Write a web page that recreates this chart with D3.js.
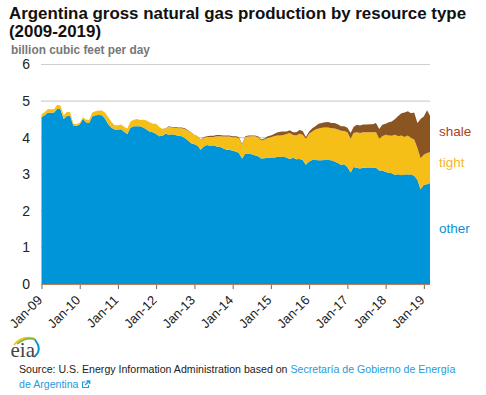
<!DOCTYPE html>
<html><head><meta charset="utf-8">
<script src="https://cdn.jsdelivr.net/npm/d3@7"></script>
<style>html,body{margin:0;padding:0;background:#fff}svg{display:block}text{font-family:"Liberation Sans",Arial,sans-serif}</style>
</head><body><svg id="c" width="486" height="395"></svg>
<script>
const startMonth = "2009-01";
const other = [4.56,4.61,4.68,4.68,4.69,4.79,4.78,4.51,4.59,4.60,4.33,4.32,4.36,4.52,4.42,4.40,4.58,4.61,4.62,4.61,4.52,4.37,4.27,4.22,4.22,4.23,4.16,4.10,4.27,4.31,4.31,
4.31,4.28,4.22,4.17,4.15,4.10,4.04,4.05,4.11,4.08,4.09,4.07,4.05,4.04,3.99,3.92,3.85,3.82,3.78,3.67,3.76,3.80,3.78,3.79,3.76,3.75,3.71,
3.67,3.67,3.64,3.62,3.58,3.43,
3.56,3.57,3.55,3.52,3.49,3.43,3.44,3.45,3.46,3.46,3.47,3.47,3.49,3.45,3.42,3.45,3.41,3.42,3.39,3.26,3.35,3.39,3.39,3.38,3.38,3.39,3.39,3.38,3.35,3.31,3.26,3.27,3.20,3.05,3.20,3.18,3.16,3.18,3.17,3.17,3.17,3.18,3.10,3.10,3.06,3.04,3.03,2.98,3.00,2.97,2.99,2.99,2.99,2.96,2.85,2.59,2.71,2.73,2.76];
const tight = [.07,.09,.10,.10,.09,.11,.10,.10,.11,.10,.06,.05,.05,.04,.08,.08,.11,.11,.12,.13,.16,.19,.16,.12,.12,.13,.14,.15,.17,.18,.20,
.17,.21,.25,.25,.23,.28,.25,.18,.14,.22,.19,.20,.21,.22,.25,.27,.29,.25,.25,.27,.24,.22,.24,.23,.28,.29,.32,
.36,.36,.37,.39,.41,.37,
.46,.46,.49,.52,.52,.49,.51,.54,.55,.58,.59,.59,.58,.65,.71,.62,.65,.69,.69,.71,.76,.78,.83,.87,.89,.89,.89,.88,.90,.91,.93,.91,.95,.92,.93,.97,.97,.97,.98,.98,.98,.97,.87,.94,1.02,1.02,1.02,1.10,1.04,1.09,1.03,1.07,1.00,.99,.87,.85,.82,.85,.84];
const shale = [0,0,0,0,0,0,0,0,0,0,0,0,0,0,0,0,0,0,0,0,0,0,0,0,0,0,0,0,0,0,0,
0,0,0,0,0,0,0,.01,.01,.01,.01,.02,.02,.02,.02,.01,.01,.01,.01,.01,.02,.02,.03,.03,.03,.03,.03,
.03,.03,.03,.03,.03,.03,
.02,.03,.02,.02,.03,.03,.03,.05,.05,.06,.08,.10,.10,.07,.07,.08,.09,.10,.10,.05,.06,.09,.09,.13,.13,.14,.15,.14,.15,.15,.12,.13,.12,.16,.16,.20,.20,.21,.21,.22,.22,.25,.27,.31,.30,.36,.39,.43,.55,.61,.67,.66,.68,.74,.68,1.07,1.05,1.17,1.00];
const seriesKeys = ["other","tight","shale"];
const seriesColors = ["#0095d8","#f6bf17","#8b5522"];
const yTicks = [0,1,2,3,4,5,6];
const labelColors = {shale:"#a8431a",tight:"#f5b81f",other:"#0b8fd3"};
const title = ["Argentina gross natural gas production by resource type","(2009-2019)"];
const unit = "billion cubic feet per day";

const parse = d3.utcParse("%Y-%m");
const t0 = parse(startMonth);
const rows = other.map((v,i)=>({date:d3.utcMonth.offset(t0,i),other:v,tight:tight[i],shale:shale[i]}));
const svg = d3.select("#c");
const x = d3.scaleUtc().domain([rows[0].date,rows[rows.length-1].date]).range([41.5,430]);
const y = d3.scaleLinear().domain([0,6]).range([284,64.5]);

svg.selectAll("text.title").data(title).join("text").attr("class","title")
  .attr("x",9).attr("y",(d,i)=>19+i*18).attr("font-size",16.9).attr("font-weight","bold").attr("fill","#111").text(d=>d);
svg.append("text").attr("x",11).attr("y",53.5).attr("font-size",11.85).attr("font-weight","bold").attr("fill","#777").text(unit);

svg.append("g").selectAll("line").data(yTicks.filter(d=>d>0)).join("line")
  .attr("x1",41).attr("x2",430).attr("y1",d=>y(d)).attr("y2",d=>y(d)).attr("stroke","#cfcfcf").attr("stroke-width",1.2);

const stack = d3.stack().keys(seriesKeys)(rows);
const area = d3.area().x(d=>x(d.data.date)).y0(d=>y(d[0])).y1(d=>y(d[1]));
svg.append("g").selectAll("path").data(stack).join("path")
  .attr("d",area).attr("fill",(d,i)=>seriesColors[i]);

const ya = d3.axisLeft(y).tickValues(yTicks).tickSize(0).tickPadding(0).tickFormat(d3.format("d"));
const yg = svg.append("g").attr("transform","translate(30,0)").call(ya);
yg.select(".domain").remove();
yg.selectAll("text").attr("font-size",14).attr("fill","#222").attr("font-family",'"Liberation Sans",Arial,sans-serif');

svg.append("line").attr("x1",41).attr("x2",430).attr("y1",284.5).attr("y2",284.5).attr("stroke","#b9805c").attr("stroke-width",1.2);
const xa = d3.axisBottom(x).ticks(d3.utcYear.every(1)).tickSize(4).tickFormat(d3.utcFormat("%b-%y"));
const xg = svg.append("g").attr("transform","translate(0,285)").call(xa);
xg.select(".domain").remove();
xg.selectAll("line").attr("stroke","#666");
xg.selectAll("text").attr("font-size",13).attr("fill","#222").attr("font-family",'"Liberation Sans",Arial,sans-serif')
  .attr("text-anchor","end").attr("dy",0).attr("y",0)
  .attr("transform","translate(1,16) rotate(-45)");

svg.selectAll("text.lab").data(seriesKeys).join("text").attr("class","lab")
  .attr("x",439).attr("y",d=>d==="shale"?136:d==="tight"?167:233)
  .attr("font-size",13.5).attr("fill",d=>labelColors[d]).text(d=>d);

// eia logo
const logo = svg.append("g");
logo.append("path").attr("d","M14 345 Q22 335 35 339").attr("fill","none").attr("stroke","#f5c518").attr("stroke-width",2);
logo.append("path").attr("d","M17 344 Q27 336 36 340").attr("fill","none").attr("stroke","#7ab648").attr("stroke-width",1.6);
logo.append("path").attr("d","M35 340 Q43 350 34 357").attr("fill","none").attr("stroke","#0095d8").attr("stroke-width",2);
logo.append("text").attr("x",10.5).attr("y",357).attr("font-size",21).attr("fill","#444").style("font-family",'"Liberation Serif",serif').text("eia");

const src = svg.append("g").attr("font-size",10.6);
const l1 = src.append("text").attr("x",19).attr("y",373).attr("fill","#222");
l1.append("tspan").text("Source: U.S. Energy Information Administration based on ");
l1.append("tspan").attr("fill","#1f9bdc").text("Secretaría de Gobierno de Energía");
src.append("text").attr("x",19).attr("y",388).attr("fill","#1f9bdc").text("de Argentina");
const ic = svg.append("g").attr("fill","none").attr("stroke","#1f9bdc").attr("stroke-width",1.1);
ic.append("path").attr("d","M85.5 382H82.5V387.5H88.5V385");
ic.append("path").attr("d","M85 385L89 381.5M86.5 381H89.7V384").attr("stroke-width",1.3);
</script></body></html>
